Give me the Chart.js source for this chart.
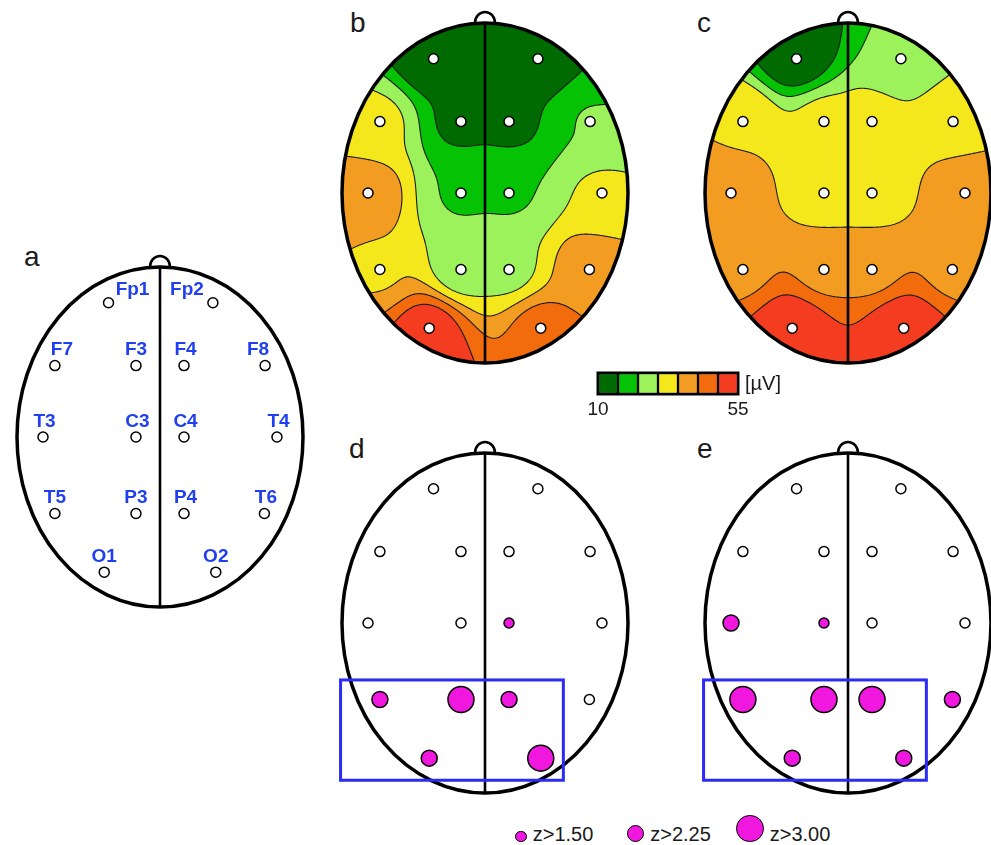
<!DOCTYPE html>
<html>
<head>
<meta charset="utf-8">
<script src="https://cdn.jsdelivr.net/npm/chart.js@4.4.1/dist/chart.umd.min.js"></script>
<style>
  html, body { margin:0; padding:0; background:#ffffff; }
  body { width:991px; height:845px; position:relative; overflow:hidden; font-family:"Liberation Sans", Arial, sans-serif; }
  canvas { position:absolute; display:block; }
  .panel { position:absolute; font-size:28px; line-height:28px; color:#1a1a1a; }
  .zdot { position:absolute; box-sizing:border-box; border:1.5px solid #000; border-radius:50%; }
  .ztxt { position:absolute; font-size:20px; line-height:20px; color:#1a1a1a; white-space:nowrap; }
</style>
</head>
<body>
<div class="panel" style="left:24px;top:243px">a</div>
<div class="panel" style="left:350px;top:9px">b</div>
<div class="panel" style="left:697px;top:9px">c</div>
<div class="panel" style="left:349px;top:435px">d</div>
<div class="panel" style="left:697px;top:435px">e</div>

<canvas id="headA" width="320" height="380" style="left:0px;top:247px"></canvas>
<canvas id="headB" width="320" height="380" style="left:325px;top:3px"></canvas>
<canvas id="headC" width="320" height="380" style="left:688px;top:3px"></canvas>
<canvas id="headD" width="320" height="380" style="left:325px;top:433px"></canvas>
<canvas id="headE" width="320" height="380" style="left:688px;top:433px"></canvas>
<canvas id="cbar" width="210" height="50" style="left:588px;top:368px"></canvas>
<div id="zlegend"></div>

<script>
// ================= DATA =================
const electrodeNames = ['Fp1','Fp2','F7','F3','F4','F8','T3','C3','C4','T4','T5','P3','P4','T6','O1','O2'];
// normalized montage coordinates (head = unit ellipse)
const electrodeX = [-0.36, 0.37, -0.735, -0.168, 0.168, 0.735, -0.818, -0.168, 0.168, 0.818, -0.735, -0.168, 0.168, 0.73, -0.39, 0.39];
const electrodeY = [0.79, 0.79, 0.42, 0.42, 0.42, 0.42, 0, 0, 0, 0, -0.45, -0.45, -0.45, -0.45, -0.795, -0.795];
// amplitude (µV) per electrode, panels b and c
const amplitudeB = [11, 12, 31, 15, 15, 23, 39, 22.5, 22.5, 30, 35, 25.5, 27, 39.5, 53, 45];
const amplitudeC = [11, 23.5, 35.2, 32, 32, 33.5, 38, 33, 33, 38.5, 40.5, 40, 40, 40.5, 55, 55];
// z-score class per electrode (0 none, 1 z>1.50, 2 z>2.25, 3 z>3.00), panels d and e
const zLevelD = [0,0,0,0,0,0,0,0,1,0,2,3,2,0,2,3];
const zLevelE = [0,0,0,0,0,0,2,1,0,0,3,3,3,2,2,2];
const zLegendLabels = ['z>1.50','z>2.25','z>3.00'];
const colorbarRange = [10, 55];
const colorbarTickLabels = ['10', '55'];
const colorbarUnit = '[µV]';

// ================= STYLE =================
const levelColors = ['#006b00','#05c205','#9cf25a','#f4e81c','#f39c22','#f26c0e','#f33c20'];
const MAGENTA = '#f018df';
const zRadius = [5, 5, 8, 13];
const XR = 160/143, YR = 190/170, ASPECT = 170/143;
const SHEPARD_RADIUS = 0.9;

function hexToRgb(h){ return [parseInt(h.slice(1,3),16), parseInt(h.slice(3,5),16), parseInt(h.slice(5,7),16)]; }

// local (Franke-Little) inverse-distance interpolation of the electrode values
function makeInterp(vals){
  const n = electrodeX.length, R = SHEPARD_RADIUS;
  const px = electrodeX.slice(), py = electrodeY.map(v=>v*ASPECT);
  return (x,y)=>{
    y*=ASPECT; let sw=0, s=0, best=1e9, bv=vals[0];
    for (let i=0;i<n;i++){
      const d=Math.hypot(x-px[i], y-py[i]);
      if (d<1e-6) return vals[i];
      if (d<best){ best=d; bv=vals[i]; }
      if (d>=R) continue;
      const q=(R-d)/(R*d), w=q*q; sw+=w; s+=w*vals[i];
    }
    return sw>0 ? s/sw : bv;
  };
}

function drawMap(chart, vals, cx, cy, rx, ry){
  const ctx = chart.ctx, xs = chart.scales.x, ys = chart.scales.y;
  const W = chart.width, H = chart.height;
  const f = makeInterp(vals);
  const [lo, hi] = colorbarRange, nL = levelColors.length, stepV = (hi-lo)/nL;
  const rgb = levelColors.map(hexToRgb);
  const g = new Float32Array(W*H).fill(NaN);
  const x0=Math.max(0,Math.floor(cx-rx-3)), x1=Math.min(W-1,Math.ceil(cx+rx+3));
  const y0=Math.max(0,Math.floor(cy-ry-3)), y1=Math.min(H-1,Math.ceil(cy+ry+3));
  const off = document.createElement('canvas'); off.width=W; off.height=H;
  const octx = off.getContext('2d'); const img = octx.createImageData(W,H);
  for (let j=y0;j<=y1;j++){
    const vy = ys.getValueForPixel(j+0.5);
    for (let i=x0;i<=x1;i++){
      const vx = xs.getValueForPixel(i+0.5);
      let v = f(vx,vy); v = Math.max(lo, Math.min(hi, v));
      g[j*W+i]=v;
      const dx=(i+0.5-cx)/rx, dy=(j+0.5-cy)/ry;
      if (dx*dx+dy*dy<=1.0){
        const L = Math.min(nL-1, Math.max(0, Math.floor((v-lo)/stepV)));
        const o=(j*W+i)*4; img.data[o]=rgb[L][0]; img.data[o+1]=rgb[L][1]; img.data[o+2]=rgb[L][2]; img.data[o+3]=255;
      }
    }
  }
  octx.putImageData(img,0,0);
  ctx.drawImage(off,0,0);
  ctx.save();
  ctx.beginPath(); ctx.ellipse(cx,cy,rx,ry,0,0,2*Math.PI); ctx.clip();
  ctx.strokeStyle='#1a1a1a'; ctx.lineWidth=1.1;
  for (let k=1;k<nL;k++){
    const t = lo + k*stepV;
    ctx.beginPath();
    for (let j=y0;j<y1;j++) for (let i=x0;i<x1;i++){
      const a=g[j*W+i], b=g[j*W+i+1], c=g[(j+1)*W+i+1], d=g[(j+1)*W+i];
      const pts=[];
      if ((a<t)!==(b<t)) pts.push([i+(t-a)/(b-a), j]);
      if ((b<t)!==(c<t)) pts.push([i+1, j+(t-b)/(c-b)]);
      if ((d<t)!==(c<t)) pts.push([i+(t-d)/(c-d), j+1]);
      if ((a<t)!==(d<t)) pts.push([i, j+(t-a)/(d-a)]);
      if (pts.length>=2){
        ctx.moveTo(pts[0][0]+0.5, pts[0][1]+0.5); ctx.lineTo(pts[1][0]+0.5, pts[1][1]+0.5);
        if (pts.length===4){ ctx.moveTo(pts[2][0]+0.5, pts[2][1]+0.5); ctx.lineTo(pts[3][0]+0.5, pts[3][1]+0.5); }
      }
    }
    ctx.stroke();
  }
  ctx.restore();
}

const labelOffsets = {Fp1:[24,-7.5], Fp2:[-26,-7.5], F7:[7,-10.5], F8:[-7,-10.5], F3:[0,-10.5], T5:[0,-10.5], P3:[0,-10.5], O1:[0,-10.5], O2:[0,-10.5]};

function headPlugin(cfg){
  return {
    id: 'head'+cfg.key,
    beforeDatasetsDraw(chart){
      const ctx=chart.ctx, xs=chart.scales.x, ys=chart.scales.y;
      const cx=xs.getPixelForValue(0), cy=ys.getPixelForValue(0);
      const rx=xs.getPixelForValue(1)-cx, ry=cy-ys.getPixelForValue(1);
      if (cfg.values) drawMap(chart, cfg.values, cx, cy, rx, ry);
      ctx.save();
      ctx.strokeStyle='#000';
      ctx.lineWidth=2.6;
      ctx.beginPath(); ctx.moveTo(cx, cy-ry); ctx.lineTo(cx, cy+ry); ctx.stroke();
      ctx.beginPath(); ctx.ellipse(cx, cy-ry, 10, 11, 0, Math.PI, 2*Math.PI); ctx.stroke();
      ctx.lineWidth=3.5;
      ctx.beginPath(); ctx.ellipse(cx, cy, rx, ry, 0, 0, 2*Math.PI); ctx.stroke();
      if (cfg.roi){
        const l=xs.getPixelForValue(-1.01), r=xs.getPixelForValue(0.548);
        const t=ys.getPixelForValue(-0.335), b=ys.getPixelForValue(-0.925);
        ctx.strokeStyle='#2b2bf5'; ctx.lineWidth=3;
        ctx.strokeRect(l, t, r-l, b-t);
      }
      ctx.restore();
    },
    afterDatasetsDraw(chart){
      if (!cfg.labels) return;
      const ctx=chart.ctx, meta=chart.getDatasetMeta(0);
      ctx.save();
      ctx.font='bold 19px "Liberation Sans", Arial, sans-serif';
      ctx.fillStyle='#1f3ff0'; ctx.textAlign='center'; ctx.textBaseline='alphabetic';
      electrodeNames.forEach((nm,i)=>{
        const p=meta.data[i]; const o=labelOffsets[nm]||[1.5,-10.5];
        ctx.fillText(nm, p.x+o[0], p.y+o[1]);
      });
      ctx.restore();
    }
  };
}

function headChart(id, cfg){
  const pts = electrodeNames.map((n,i)=>({x:electrodeX[i], y:electrodeY[i]}));
  const z = cfg.z;
  const ds = {
    label: id, data: pts,
    pointRadius: z ? z.map(v=>zRadius[v]) : 5,
    pointBackgroundColor: z ? z.map(v=>v>0?MAGENTA:'#ffffff') : '#ffffff',
    pointBorderColor: '#000', pointBorderWidth: 1.5, pointHoverRadius: 0,
    showLine: false, clip: false
  };
  return new Chart(document.getElementById(id), {
    type:'scatter',
    data:{datasets:[ds]},
    options:{
      responsive:false, animation:false, devicePixelRatio:1, events:[],
      layout:{padding:0, autoPadding:false},
      plugins:{legend:{display:false}, tooltip:{enabled:false}},
      scales:{
        x:{type:'linear', min:-XR, max:XR, display:false},
        y:{type:'linear', min:-YR, max:YR, display:false}
      }
    },
    plugins:[headPlugin(cfg)]
  });
}

headChart('headA', {key:'A', labels:true});
headChart('headB', {key:'B', values:amplitudeB});
headChart('headC', {key:'C', values:amplitudeC});
headChart('headD', {key:'D', z:zLevelD, roi:true});
headChart('headE', {key:'E', z:zLevelE, roi:true});

// ---- colour bar ----
(function(){
  const [lo,hi]=colorbarRange, nL=levelColors.length, stepV=(hi-lo)/nL;
  const cbPlugin = {
    id:'cbar',
    afterDatasetsDraw(chart){
      const ctx=chart.ctx, a=chart.chartArea, xs=chart.scales.x;
      ctx.save();
      ctx.strokeStyle='#000'; ctx.lineWidth=1.5;
      ctx.strokeRect(a.left-0.75, a.top-0.75, a.right-a.left+1.5, a.bottom-a.top+1.5);
      ctx.fillStyle='#1a1a1a'; ctx.textAlign='center'; ctx.textBaseline='alphabetic';
      ctx.font='19px "Liberation Sans", Arial, sans-serif';
      ctx.fillText(colorbarTickLabels[0], xs.getPixelForValue(lo), 47);
      ctx.fillText(colorbarTickLabels[1], xs.getPixelForValue(hi), 47);
      ctx.textAlign='left'; ctx.font='20px "Liberation Sans", Arial, sans-serif';
      ctx.fillText(colorbarUnit, a.right+7, 21.5);
      ctx.restore();
    }
  };
  new Chart(document.getElementById('cbar'), {
    type:'bar',
    data:{labels:[''], datasets: levelColors.map((c,k)=>({
      data:[[lo+k*stepV, lo+(k+1)*stepV]], backgroundColor:c, borderColor:'#000', borderWidth:1.5,
      borderSkipped:false, grouped:false, barPercentage:1, categoryPercentage:1
    }))},
    options:{
      indexAxis:'y', responsive:false, animation:false, devicePixelRatio:1, events:[],
      layout:{padding:{left:10, right:60, top:5, bottom:24}, autoPadding:false},
      plugins:{legend:{display:false}, tooltip:{enabled:false}},
      scales:{x:{type:'linear', min:lo, max:hi, display:false}, y:{display:false}}
    },
    plugins:[cbPlugin]
  });
})();

// ---- z legend ----
(function(){
  const host=document.getElementById('zlegend');
  const centers=[521, 635.5, 750], bottom=842;
  zLegendLabels.forEach((txt,i)=>{
    const r=zRadius[i+1]+0.75;
    const d=document.createElement('div'); d.className='zdot';
    d.style.width=d.style.height=(2*r)+'px';
    d.style.left=(centers[i]-r)+'px'; d.style.top=(bottom-2*r)+'px';
    d.style.background=MAGENTA;
    host.appendChild(d);
    const s=document.createElement('div'); s.className='ztxt'; s.textContent=txt;
    s.style.left=(centers[i]+r+6)+'px'; s.style.top='824px';
    host.appendChild(s);
  });
})();
</script>
</body>
</html>
